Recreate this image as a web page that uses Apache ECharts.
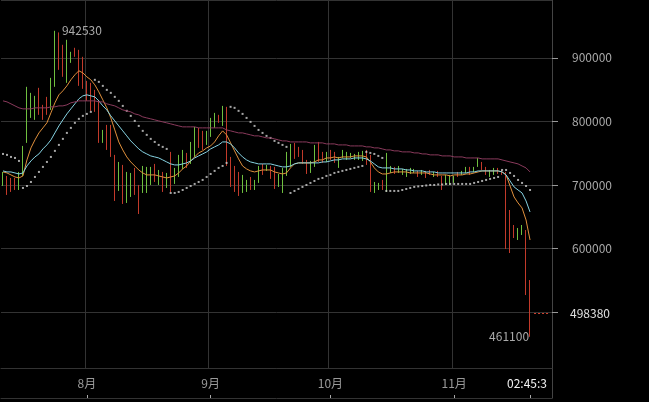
<!DOCTYPE html>
<html><head><meta charset="utf-8">
<script src="https://cdn.jsdelivr.net/npm/echarts@6/dist/echarts.min.js"></script>
<style>html,body{margin:0;padding:0;background:#000;}#c{width:649px;height:402px;}</style>
</head><body><div id="c"></div>
<script>
// ---- data (BTC/JPY daily) ----
const startDate = [2018, 6, 11]; // 2018-07-11
const dayCount = 133;
const padSlots = ['+1', '+2', '+3', '+4', '+5'];
const monthLabels = { '08': '8月', '09': '9月', '10': '10月', '11': '11月' };
const nowLabel = '02:45:3';
const lastClose = 498380;

const opens = [
  698400, 714200, 711000, 711000, 692100, 714200, 766200, 805500, 802400, 852800,
  826000, 838600, 818100, 854400, 940000, 920500, 860700, 892100, 915800, 912600,
  901600, 863800, 860700, 849600, 833900, 766200, 794500, 794500, 747300, 690600,
  731500, 671700, 681100, 726800, 700000, 687400, 687400, 700000, 733100, 700000,
  720500, 695300, 752000, 701600, 712600, 725200, 750400, 733100, 744100, 789800,
  785100, 763000, 775600, 789800, 810300, 792900, 822900, 744100, 729900, 720500,
  687400, 689000, 712600, 692100, 703200, 733100, 722100, 729900, 728400, 696900,
  687400, 714200, 728400, 766200, 759900, 755100, 739400, 718900, 728400, 767700,
  752000, 736200, 755100, 752000, 726800, 742500, 739400, 742500, 739400, 739400,
  737800, 755100, 747300, 687400, 692100, 707900, 689000, 718900, 728400, 718900,
  715800, 712600, 717300, 718900, 722100, 715800, 722100, 723600, 712600, 722100,
  714200, 700000, 700000, 703200, 720500, 715800, 718900, 728400, 720500, 728400,
  736200, 728400, 712600, 715800, 726800, 723600, 720500, 660600, 637000, 613400,
  621300, 629100, 550400
];
const closes = [
  720500, 684300, 689000, 692100, 720500, 761400, 854400, 844900, 840200, 810300,
  802400, 810300, 868500, 942530, 881100, 870100, 928400, 909500, 901600, 855900,
  851200, 832300, 816600, 815000, 766200, 786600, 755100, 744100, 674800, 736200,
  670100, 720500, 718900, 684300, 654300, 729900, 728400, 728400, 704700, 723600,
  689000, 718900, 689000, 726800, 747300, 755100, 726800, 767700, 791400, 758300,
  755100, 785100, 805500, 813400, 797700, 824400, 729900, 696900, 689000, 682700,
  715800, 707900, 692100, 707900, 729900, 715800, 731500, 709500, 693700, 717300,
  726800, 752000, 764600, 741000, 744100, 733100, 717300, 737800, 763000, 736200,
  734700, 752000, 739400, 734700, 744100, 755100, 752000, 750400, 748800, 752000,
  753600, 731500, 689000, 704700, 703200, 692100, 750400, 729900, 717300, 729900,
  725200, 725200, 726800, 725200, 712600, 723600, 711000, 715800, 720500, 712600,
  692100, 715800, 715800, 714200, 712600, 722100, 728400, 715800, 728400, 742500,
  723600, 715800, 723600, 726800, 717300, 715800, 599200, 592900, 616500, 632300,
  637000, 526800, 498380
];
const lows = [
  698400, 684300, 689000, 692100, 692100, 714200, 766200, 805500, 802400, 810300,
  802400, 810300, 818100, 854400, 881100, 870100, 860700, 892100, 901600, 855900,
  851200, 832300, 816600, 815000, 766200, 766200, 755100, 744100, 674800, 690600,
  670100, 671700, 681100, 684300, 654300, 687400, 687400, 700000, 704700, 700000,
  689000, 695300, 689000, 701600, 712600, 725200, 726800, 733100, 744100, 758300,
  755100, 763000, 775600, 789800, 797700, 792900, 729900, 696900, 689000, 682700,
  687400, 689000, 692100, 692100, 703200, 715800, 722100, 709500, 693700, 696900,
  687400, 714200, 728400, 741000, 744100, 733100, 717300, 718900, 728400, 736200,
  734700, 736200, 739400, 734700, 726800, 742500, 739400, 742500, 739400, 739400,
  737800, 731500, 689000, 687400, 692100, 692100, 689000, 718900, 717300, 718900,
  715800, 712600, 717300, 718900, 712600, 715800, 711000, 715800, 712600, 712600,
  692100, 700000, 700000, 703200, 712600, 715800, 718900, 715800, 720500, 728400,
  723600, 715800, 712600, 715800, 717300, 715800, 599200, 592900, 616500, 613400,
  621300, 526800, 461100
];
const highs = [
  720500, 714200, 711000, 711000, 720500, 761400, 854400, 844900, 840200, 852800,
  826000, 838600, 868500, 942530, 940000, 920500, 928400, 909500, 915800, 912600,
  901600, 863800, 860700, 849600, 833900, 786600, 794500, 794500, 747300, 736200,
  731500, 720500, 718900, 726800, 700000, 729900, 728400, 728400, 733100, 723600,
  720500, 718900, 752000, 726800, 747300, 755100, 750400, 767700, 791400, 789800,
  785100, 785100, 805500, 813400, 810300, 824400, 822900, 744100, 729900, 720500,
  715800, 707900, 712600, 707900, 729900, 733100, 731500, 729900, 728400, 717300,
  726800, 752000, 764600, 766200, 759900, 755100, 739400, 737800, 763000, 767700,
  752000, 752000, 755100, 752000, 744100, 755100, 752000, 750400, 748800, 752000,
  753600, 755100, 747300, 704700, 703200, 707900, 750400, 729900, 728400, 729900,
  725200, 725200, 726800, 725200, 722100, 723600, 722100, 723600, 720500, 722100,
  714200, 715800, 715800, 714200, 720500, 722100, 728400, 728400, 728400, 742500,
  736200, 728400, 723600, 726800, 726800, 723600, 720500, 660600, 637000, 632300,
  637000, 629100, 550400
];
const maShort = [
  720500, 718900, 715800, 712600, 711000, 714200, 739400, 758300, 770900, 781900,
  789800, 797700, 813400, 829200, 841800, 848100, 855900, 865400, 873300, 879600,
  876400, 870100, 865400, 857500, 846500, 833900, 821300, 805500, 786600, 767700,
  755100, 744100, 736200, 729900, 723600, 718900, 715800, 715800, 715800, 714200,
  712600, 711000, 712600, 714200, 718900, 725200, 729900, 737800, 744100, 750400,
  753600, 758300, 761400, 767700, 777200, 785100, 778800, 766200, 753600, 741000,
  729900, 725200, 722100, 720500, 722100, 723600, 723600, 723600, 720500, 718900,
  717300, 718900, 726800, 733100, 734700, 734700, 734700, 734700, 736200, 739400,
  739400, 742500, 742500, 744100, 742500, 744100, 744100, 744100, 745700, 745700,
  745700, 744100, 736200, 726800, 720500, 717300, 717300, 718900, 720500, 720500,
  720500, 720500, 718900, 718900, 718900, 718900, 718900, 717300, 715800, 715800,
  715800, 715800, 714200, 715800, 715800, 715800, 717300, 717300, 718900, 720500,
  722100, 722100, 722100, 722100, 722100, 720500, 715800, 698400, 681100, 671700,
  663800, 644900, 613400
];
const maMid = [
  722100, 720500, 720500, 718900, 717300, 718900, 729900, 737800, 744100, 748800,
  756700, 763000, 770900, 781900, 792900, 802400, 811800, 819700, 827600, 835500,
  840200, 841800, 840200, 838600, 832300, 824400, 818100, 808700, 800800, 792900,
  785100, 777200, 769300, 763000, 756700, 752000, 748800, 745700, 744100, 742500,
  739400, 736200, 733100, 731500, 731500, 733100, 734700, 737800, 742500, 745700,
  748800, 752000, 756700, 759900, 763000, 767700, 767700, 764600, 758300, 750400,
  744100, 739400, 736200, 734700, 733100, 733100, 733100, 733100, 731500, 729900,
  728400, 728400, 729900, 733100, 734700, 734700, 734700, 734700, 734700, 734700,
  736200, 736200, 737800, 739400, 739400, 741000, 741000, 741000, 742500, 742500,
  742500, 741000, 737800, 733100, 728400, 726800, 726800, 726800, 725200, 725200,
  725200, 723600, 723600, 722100, 722100, 722100, 720500, 720500, 720500, 718900,
  718900, 718900, 718900, 718900, 718900, 718900, 718900, 720500, 720500, 722100,
  722100, 722100, 722100, 722100, 722100, 720500, 715800, 706300, 696900, 692100,
  687400, 674800, 657500
];
const maLong = [
  832300, 830700, 827600, 824400, 821300, 819700, 819700, 819700, 821300, 821300,
  821300, 821300, 822900, 822900, 824400, 824400, 826000, 829200, 830700, 832300,
  832300, 832300, 832300, 832300, 830700, 830700, 827600, 826000, 824400, 821300,
  818100, 816600, 815000, 811800, 810300, 807100, 805500, 804000, 802400, 800800,
  799200, 797700, 796100, 794500, 792900, 791400, 791400, 791400, 791400, 789800,
  789800, 789800, 789800, 789800, 789800, 789800, 786600, 785100, 783500, 781900,
  781900, 780300, 778800, 777200, 777200, 775600, 774000, 774000, 772500, 770900,
  769300, 769300, 767700, 767700, 767700, 767700, 767700, 766200, 766200, 766200,
  766200, 764600, 764600, 764600, 763000, 763000, 763000, 761400, 761400, 761400,
  761400, 759900, 759900, 758300, 758300, 756700, 755100, 755100, 753600, 753600,
  752000, 752000, 752000, 750400, 750400, 748800, 748800, 747300, 747300, 747300,
  745700, 745700, 745700, 744100, 744100, 744100, 742500, 742500, 742500, 742500,
  741000, 741000, 741000, 741000, 741000, 739400, 737800, 736200, 734700, 733100,
  729900, 726800, 720500
];
const sar = [
  748800, 747300, 744100, 742500, 737800, 695300, 698400, 704700, 712600, 720500,
  728400, 736200, 744100, 753600, 763000, 772500, 781900, 789800, 797700, 804000,
  808700, 811800, 815000, 865400, 862200, 855900, 849600, 844900, 838600, 832300,
  824400, 816600, 808700, 800800, 792900, 785100, 778800, 772500, 767700, 763000,
  759900, 756700, 687400, 687400, 689000, 692100, 695300, 698400, 701600, 704700,
  707900, 712600, 717300, 722100, 726800, 729900, 734700, 822900, 821300, 816600,
  811800, 805500, 799200, 792900, 786600, 781900, 777200, 774000, 769300, 766200,
  763000, 759900, 687400, 690600, 693700, 696900, 700000, 703200, 706300, 709500,
  711000, 714200, 715800, 718900, 720500, 722100, 723600, 725200, 726800, 728400,
  729900, 752000, 750400, 748800, 745700, 742500, 690600, 690600, 690600, 690600,
  692100, 693700, 695300, 696900, 697700, 698400, 699200, 700000, 700000, 700800,
  700800, 701600, 701600, 701600, 701600, 701600, 701600, 701600, 703200, 704700,
  706300, 707900, 709500, 711000, 712600, 723600, 723600, 718900, 714200, 707900,
  703200, 698400, 692100
];

// ---- build ----
const dates = [];
{
  const d0 = Date.UTC(startDate[0], startDate[1], startDate[2]);
  for (let i = 0; i < dayCount; i++) {
    dates.push(new Date(d0 + i * 86400000).toISOString().slice(0, 10));
  }
}
const cats = dates.concat(padSlots);
const lastIdx = dayCount - 1;
const candle = dates.map((d, i) => [opens[i], closes[i], lows[i], highs[i]]);
const isMonthStart = v => /^\d{4}-\d{2}-01$/.test(v);

const UP = '#6fbf3f', DOWN = '#c23a2a';
const FONT = 'Noto Sans CJK JP';

const chart = echarts.init(document.getElementById('c'));
chart.setOption({
  backgroundColor: '#000',
  animation: false,
  textStyle: { fontFamily: FONT },
  grid: [
    { left: 1, right: 97, top: 0, bottom: 34 },
    { left: 1, right: 97, top: 368, height: 30 }
  ],
  xAxis: [
    {
      type: 'category', data: cats, gridIndex: 0, boundaryGap: true,
      axisLine: { show: true, lineStyle: { color: '#333' } },
      axisTick: { show: false },
      axisLabel: {
        interval: (i, v) => isMonthStart(v) || i === lastIdx,
        formatter: (v, i) => i === lastIdx ? '{now|' + nowLabel + '}' : (monthLabels[v.slice(5, 7)] || ''),
        color: '#9a9a9a', fontSize: 12, margin: 9, fontFamily: FONT,
        rich: { now: { color: '#f2f2f2', fontSize: 12, fontFamily: FONT, padding: [0, 0, 0, -6] } }
      },
      splitLine: { show: true, interval: (i, v) => isMonthStart(v), lineStyle: { color: '#333' } }
    },
    {
      type: 'category', data: cats, gridIndex: 1, boundaryGap: true,
      axisLine: { show: true, lineStyle: { color: '#333' } },
      axisTick: { show: true, inside: true, length: 3, alignWithLabel: true,
        interval: (i, v) => isMonthStart(v) || i === lastIdx, lineStyle: { color: '#aaa' } },
      axisLabel: { show: false },
      splitLine: { show: false }
    }
  ],
  yAxis: [
    {
      type: 'value', gridIndex: 0, position: 'right', min: 412000, max: 991000,
      axisLine: { show: true, lineStyle: { color: '#444' } },
      axisTick: { show: true, length: 6, lineStyle: { color: '#999' } },
      axisLabel: {
        color: '#a8a8a8', fontSize: 12, margin: 20, fontFamily: FONT,
        showMinLabel: false, showMaxLabel: false,
        formatter: v => (v === 500000 ? '' : String(v))
      },
      splitLine: { show: true, lineStyle: { color: '#333' } }
    },
    {
      type: 'value', gridIndex: 1, position: 'right',
      axisLine: { show: true, lineStyle: { color: '#444' } },
      axisTick: { show: false }, axisLabel: { show: false }, splitLine: { show: false }
    }
  ],
  series: [
    {
      type: 'candlestick', name: 'BTC/JPY', data: candle, barWidth: 0.01, barMinWidth: 0.01,
      itemStyle: { color: UP, color0: DOWN, borderColor: UP, borderColor0: DOWN, borderWidth: 1 },
      markPoint: {
        symbol: 'circle', symbolSize: 0, silent: true,
        label: { show: true, color: '#aaa', fontSize: 12, fontFamily: FONT, formatter: p => String(p.value) },
        data: [
          { type: 'max', valueDim: 'highest', label: { position: 'right', distance: 7 } },
          { type: 'min', valueDim: 'lowest', label: { position: 'left', distance: 1 } }
        ]
      },
      markLine: {
        symbol: 'none', silent: true,
        lineStyle: { color: '#d0402e', type: [2, 2], width: 1, opacity: 1 },
        label: { show: true, position: 'end', distance: 20, color: '#e0e0e0', fontSize: 12, fontFamily: FONT,
          formatter: () => String(lastClose) },
        data: [[{ coord: [padSlots[0], lastClose] }, { coord: [padSlots[padSlots.length - 1], lastClose] }]]
      }
    },
    { type: 'line', name: 'MA short', data: maShort, showSymbol: false, symbol: 'none',
      lineStyle: { color: '#e0903c', width: 1 } },
    { type: 'line', name: 'MA mid', data: maMid, showSymbol: false, symbol: 'none',
      lineStyle: { color: '#86d3e3', width: 1 } },
    { type: 'line', name: 'MA long', data: maLong, showSymbol: false, symbol: 'none',
      lineStyle: { color: '#8a3a5c', width: 1 } },
    { type: 'scatter', name: 'SAR', data: sar, symbol: 'rect', symbolSize: 2,
      itemStyle: { color: '#cfcfcf' } }
  ]
});
</script>
</body></html>
